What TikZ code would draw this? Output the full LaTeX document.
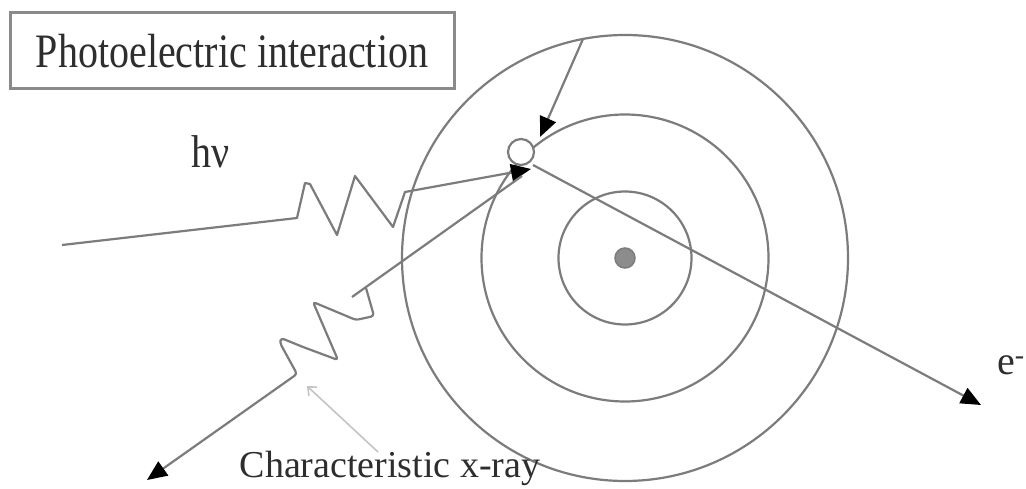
\documentclass[tikz,border=0pt]{standalone}
\usepackage{fontspec}
\setmainfont{Liberation Serif}
\usetikzlibrary{arrows.meta}
\definecolor{linegray}{HTML}{7C7C7C}
\definecolor{textgray}{HTML}{2E2E2E}
\definecolor{boxgray}{HTML}{8A8A8A}
\definecolor{nucgray}{HTML}{8C8C8C}
\definecolor{ptrgray}{HTML}{C4C4C4}
\begin{document}
\begin{tikzpicture}[x=1pt,y=-1pt,
  line/.style={draw=linegray, line width=2.2pt, line join=round},
  tip/.style={-{Triangle[length=20pt,width=17pt,color=black]}},
  orbit/.style={circle, draw=linegray, line width=2.2pt, inner sep=0pt},
  lbl/.style={text=textgray, font=\fontsize{40}{48}\selectfont, inner sep=0pt}]
\useasboundingbox[fill=white] (0,0) rectangle (1026,489);

% title box
\node[draw=boxgray, line width=3pt, minimum width=444pt, minimum height=76pt,
      lbl, inner sep=0pt] (title) at (232,51) {\scalebox{1}[1.2]{Photoelectric interaction}};

% orbits and nucleus
\node[orbit, minimum size=446pt] (outer) at (625,258) {};
\node[orbit, minimum size=287pt] (middle) at (625,258) {};
\node[orbit, minimum size=133pt] (inner) at (625,258) {};
\node[circle, draw=linegray, line width=1.5pt, fill=nucgray, minimum size=20pt, inner sep=0pt] (nuc) at (625,258) {};

% vacancy
\node[circle, draw=linegray, line width=2.2pt, fill=white, minimum size=26pt, inner sep=0pt] (vac) at (521,152) {};

% coordinates
\coordinate (hvstart) at (62,245);
\coordinate (hvend) at (531,169);
\coordinate (fall) at (583,39);
\coordinate (fallend) at (540,137);
\coordinate (estart) at (533,165);
\coordinate (eend) at (981,405);
\coordinate (xstart) at (522,176);
\coordinate (xjoin) at (352,297);
\coordinate (xend) at (147,480);
\coordinate (ptrstart) at (378,452);
\coordinate (ptrend) at (307,386);

% incoming photon h nu
\draw[line, tip] (hvstart) -- (297,218) -- (305,183) -- (310,184) -- (337,235)
   -- (355,176) -- (393,227) -- (405,192) -- (hvend);

% electron falling into vacancy
\draw[line, tip] (fall) -- (fallend);

% photoelectron
\draw[line, tip] (estart) -- (eend);

% characteristic x-ray
\draw[line] (xstart) -- (xjoin);
\draw[line, tip, rounded corners=3pt] (366,288) -- (374,316) -- (356,320) -- (313,302)
   -- (338,360) -- (303,347) -- (281,338) -- (280,343) -- (297,374) -- (xend);

% pointer from label
\draw[draw=ptrgray, line width=1.6pt, -{Straight Barb[length=7pt,width=12pt]}] (ptrstart) -- (ptrend);

% labels
\node[lbl, anchor=base] (hv) at (211,168) {\scalebox{1}[1.15]{hν}};
\node[lbl, anchor=base] (xlabel) at (390,477) {\fontsize{38}{46}\selectfont Characteristic x-ray};
\node[lbl, anchor=base west] (elab) at (997,374) {e\textsuperscript{-}};
\end{tikzpicture}
\end{document}
